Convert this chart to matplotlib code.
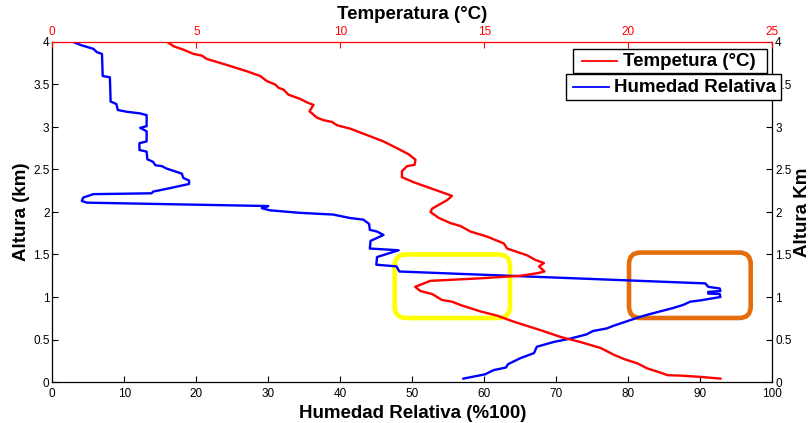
import numpy as np
import matplotlib
matplotlib.use("Agg")
import matplotlib.pyplot as plt
from matplotlib.lines import Line2D
from matplotlib.patches import FancyBboxPatch, Rectangle
from matplotlib.ticker import FuncFormatter

plt.rcParams['font.family'] = ['Liberation Sans', 'DejaVu Sans']

# Relative humidity profile (%) and its heights (km)
humedad = [2.9, 4.1, 5.7, 6.2, 6.9, 7.0, 8.0, 8.1, 8.9, 9.1, 10.3, 12.2, 13.1, 13.1,
           12.2, 13.1, 13.1, 12.1, 12.1, 13.1, 13.2, 14.0, 14.3, 15.2, 15.9, 17.0,
           18.0, 18.2, 19.0, 19.0, 16.3, 14.0, 13.8, 5.7, 4.3, 4.1, 4.8, 30.0, 29.1,
           30.2, 34.4, 39.0, 41.3, 43.2, 44.0, 44.1, 45.1, 46.0, 44.2, 44.1, 48.1,
           45.1, 45.0, 47.8, 48.2, 90.7, 91.1, 92.7, 92.8, 91.1, 91.1, 92.7, 92.8,
           90.0, 88.6, 87.6, 86.2, 85.3, 82.6, 81.4, 77.9, 77.0, 75.1, 74.2, 71.9,
           69.6, 67.3, 66.9, 65.0, 63.3, 63.0, 61.3, 60.1, 58.9, 57.1]
altura_h = [4.00, 3.96, 3.92, 3.88, 3.86, 3.60, 3.585, 3.30, 3.27, 3.20, 3.18, 3.16,
            3.14, 3.01, 2.99, 2.95, 2.83, 2.81, 2.73, 2.71, 2.62, 2.59, 2.55, 2.54,
            2.51, 2.48, 2.45, 2.40, 2.37, 2.33, 2.28, 2.24, 2.22, 2.21, 2.17, 2.13,
            2.11, 2.07, 2.045, 2.02, 1.99, 1.97, 1.93, 1.91, 1.86, 1.79, 1.77, 1.73,
            1.66, 1.57, 1.55, 1.47, 1.38, 1.36, 1.30, 1.16, 1.12, 1.10, 1.07, 1.06,
            1.04, 1.035, 1.00, 0.96, 0.945, 0.906, 0.87, 0.85, 0.79, 0.76, 0.66,
            0.63, 0.60, 0.56, 0.51, 0.47, 0.415, 0.34, 0.28, 0.21, 0.17, 0.14, 0.09,
            0.07, 0.04]

# Temperature profile (degC) and its heights (km)
temperatura = [4.0, 4.21, 4.55, 4.90, 5.19, 5.37, 6.06, 6.76, 7.22, 7.45, 7.74, 7.86,
               8.03, 8.20, 8.61, 8.84, 9.07, 8.93, 9.19, 9.42, 9.71, 9.89, 10.35,
               10.81, 11.5, 11.97, 12.37, 12.61, 12.58, 12.32, 12.14, 12.14, 12.55,
               13.13, 13.88, 13.71, 13.19, 13.13, 13.42, 13.82, 14.17, 14.52, 15.10,
               15.68, 15.79, 16.49, 16.78, 17.07, 16.9, 17.09, 16.84, 16.26, 14.87,
               13.13, 12.6, 12.78, 13.19, 13.53, 13.88, 14.17, 14.87, 15.45, 16.02,
               16.95, 17.65, 18.34, 19.04, 19.5, 19.85, 20.31, 20.66, 21.12, 21.36,
               21.82, 22.51, 23.2]
altura_t = [4.00, 3.95, 3.91, 3.86, 3.84, 3.80, 3.73, 3.655, 3.60, 3.54, 3.50, 3.46,
            3.44, 3.38, 3.33, 3.29, 3.26, 3.185, 3.11, 3.08, 3.06, 3.02, 2.98, 2.92,
            2.83, 2.75, 2.68, 2.615, 2.555, 2.54, 2.48, 2.41, 2.35, 2.28, 2.19, 2.14,
            2.04, 2.00, 1.93, 1.87, 1.835, 1.77, 1.71, 1.63, 1.57, 1.49, 1.435, 1.40,
            1.36, 1.30, 1.28, 1.25, 1.22, 1.19, 1.12, 1.07, 1.035, 0.965, 0.945,
            0.906, 0.83, 0.78, 0.71, 0.61, 0.53, 0.47, 0.40, 0.32, 0.27, 0.22, 0.16,
            0.11, 0.08, 0.075, 0.06, 0.04]

rh_ticks = list(range(0, 101, 10))
temp_ticks = list(range(0, 26, 5))
alt_ticks = [0, 0.5, 1, 1.5, 2, 2.5, 3, 3.5, 4]

# Highlighted zones: (RH min, RH max, height min, height max)
zona_amarilla = (47.55, 63.57, 0.753, 1.50)
zona_naranja = (80.1, 97.0, 0.753, 1.523)

W, H = 812, 423
fig = plt.figure(figsize=(W / 100, H / 100), dpi=100)
x0, y0, aw, ah = 52.3, 41.0, 720.0, 340.0
ax = fig.add_axes([x0 / W, y0 / H, aw / W, ah / H])

fmt = FuncFormatter(lambda v, p: f"{v:g}")
tick_kw = dict(direction='in', length=4.5, width=0.8, labelsize=8.5)

ax.plot(humedad, altura_h, color='#0000FF', lw=1.7, zorder=3)
ax.set_xlim(0, 100)
ax.set_ylim(0, 4)
ax.set_xticks(rh_ticks)
ax.set_yticks(alt_ticks)
ax.yaxis.set_major_formatter(fmt)
ax.tick_params(axis='x', pad=4, **tick_kw)
ax.tick_params(axis='y', pad=2, **tick_kw)
ax.spines['top'].set_visible(False)
ax.spines['right'].set_visible(False)
for s in ('left', 'bottom'):
    ax.spines[s].set_linewidth(0.9)
ax.set_xlabel('Humedad Relativa (%100)', fontsize=13.5, fontweight='bold', labelpad=4)
ax.set_ylabel('Altura (km)', fontsize=13.5, fontweight='bold', labelpad=2)

# Rounded highlight boxes (aspect keeps corners circular in pixels)
px_x = aw / 100.0
px_y = ah / 4.0
for (a, b, c, d), col in ((zona_amarilla, '#FFFF00'), (zona_naranja, '#E46C0A')):
    box = FancyBboxPatch((a, c), b - a, d - c,
                         boxstyle='round,pad=0,rounding_size=1.6',
                         mutation_aspect=px_x / px_y,
                         transform=ax.transData, fill=False,
                         edgecolor=col, lw=3.3, zorder=2)
    ax.add_patch(box)

# Temperature on the top axis
ax2 = ax.twiny()
ax2.plot(temperatura, altura_t, color='#FF0000', lw=1.7, zorder=3)
ax2.set_xlim(0, 25)
ax2.set_xticks(temp_ticks)
ax2.tick_params(axis='x', colors='#FF0000', pad=3, **tick_kw)
for s in ('left', 'right', 'bottom'):
    ax2.spines[s].set_visible(False)
ax2.spines['top'].set_color('#FF0000')
ax2.spines['top'].set_linewidth(0.9)
ax2.set_xlabel('Temperatura (°C)', fontsize=13.5, fontweight='bold', labelpad=5)

# Right height axis
sec = ax.secondary_yaxis('right')
sec.set_yticks(alt_ticks)
sec.yaxis.set_major_formatter(fmt)
sec.tick_params(axis='y', pad=2, **tick_kw)
sec.spines['right'].set_linewidth(0.9)
sec.set_ylabel('Altura Km', fontsize=13.5, fontweight='bold', labelpad=2)


def legend_box(left, top, right, bottom, line_x0, line_x1, text_x, color, label):
    """Draw one framed legend entry; coordinates in figure pixels from top-left."""
    tr = fig.transFigure
    rect = Rectangle((left / W, 1 - bottom / H), (right - left) / W, (bottom - top) / H,
                     transform=tr, facecolor='white', edgecolor='black', lw=1.0,
                     zorder=10)
    fig.add_artist(rect)
    yc = 1 - (top + bottom) / 2 / H
    fig.add_artist(Line2D([line_x0 / W, line_x1 / W], [yc, yc], transform=tr,
                          color=color, lw=1.3, zorder=11))
    fig.text(text_x / W, yc - 0.5 / H, label, transform=tr, fontsize=13.5,
             fontweight='bold', va='center', ha='left', zorder=11)


legend_box(573.3, 49.3, 767.3, 72.7, 581.7, 617.3, 622.7, '#FF0000', 'Tempetura (°C)')
legend_box(565.7, 74.0, 781.0, 100.0, 573.3, 609.3, 614.0, '#0000FF', 'Humedad Relativa')

fig.savefig('out.png', dpi=100)
